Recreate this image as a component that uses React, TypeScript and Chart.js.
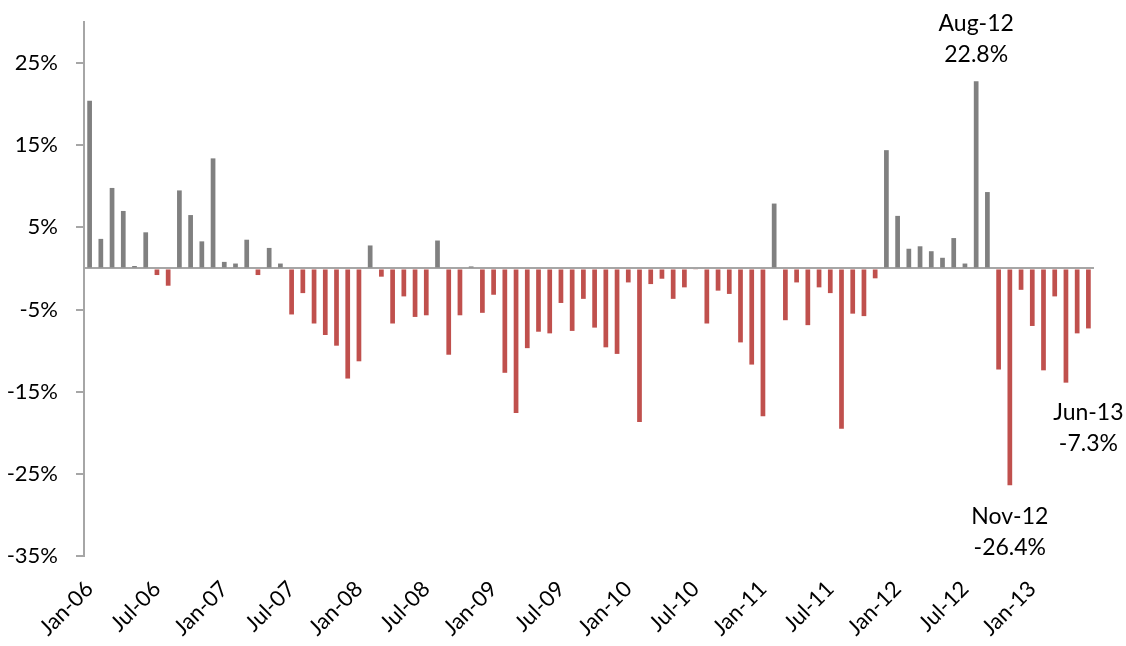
import React, { useEffect, useRef } from "react";
import { Chart, registerables } from "chart.js";

Chart.register(...registerables);

const monthNames = ["Jan", "Feb", "Mar", "Apr", "May", "Jun", "Jul", "Aug", "Sep", "Oct", "Nov", "Dec"];
const years = ["06", "07", "08", "09", "10", "11", "12", "13"];
const categories: string[] = years
  .flatMap((yy) => monthNames.map((m) => `${m}-${yy}`))
  .slice(0, 90); // Jan-06 .. Jun-13

const values: number[] = [
  20.4, 3.6, 9.8, 7.0, 0.3, 4.4, -0.8, -2.1, 9.5, 6.5, 3.3, 13.4,
  0.8, 0.6, 3.5, -0.8, 2.5, 0.6, -5.6, -3.0, -6.7, -8.1, -9.4, -13.4,
  -11.3, 2.8, -1.0, -6.7, -3.4, -5.9, -5.7, 3.4, -10.5, -5.7, 0.25, -5.4,
  -3.2, -12.7, -17.6, -9.7, -7.7, -7.9, -4.2, -7.6, -3.7, -7.2, -9.6, -10.4,
  -1.7, -18.7, -1.9, -1.25, -3.7, -2.3, -0.1, -6.7, -2.7, -3.1, -9.0, -11.7,
  -18.0, 7.9, -6.3, -1.7, -6.9, -2.3, -3.0, -19.5, -5.5, -5.8, -1.2, 14.4,
  6.4, 2.4, 2.7, 2.1, 1.3, 3.7, 0.6, 22.8, 9.3, -12.3, -26.4, -2.6,
  -7.0, -12.4, -3.4, -13.9, -7.9, -7.3,
];

const xTickLabels = [
  "Jan-06", "Jul-06", "Jan-07", "Jul-07", "Jan-08", "Jul-08", "Jan-09", "Jul-09",
  "Jan-10", "Jul-10", "Jan-11", "Jul-11", "Jan-12", "Jul-12", "Jan-13",
];

const yTickValues = [-35, -25, -15, -5, 5, 15, 25];

const calloutMonths = ["Aug-12", "Nov-12", "Jun-13"];
// vertical pixel offset of the first text line from the bar end
const calloutOffsets = [-58, 31, 84];

const FONT_FAMILY = "Lato, 'Open Sans', sans-serif";
const POS_COLOR = "#808080";
const NEG_COLOR = "#C0504D";
const AXIS_COLOR = "#A6A6A6";

const calloutPlugin = {
  id: "callouts",
  afterDatasetsDraw(chart: any) {
    const { ctx, scales } = chart;
    const xs = scales.x;
    const ys = scales.y;
    ctx.save();
    ctx.font = `23px ${FONT_FAMILY}`;
    ctx.fillStyle = "#000";
    ctx.textAlign = "center";
    ctx.textBaseline = "middle";
    calloutMonths.forEach((m, k) => {
      const i = categories.indexOf(m);
      const v = values[i];
      const px = xs.getPixelForValue(i);
      const py = ys.getPixelForValue(v);
      const start = py + calloutOffsets[k];
      ctx.fillText(m, px, start);
      ctx.fillText(`${v.toFixed(1)}%`, px, start + 31);
    });
    ctx.restore();
  },
};

export default function App() {
  const canvasRef = useRef<HTMLCanvasElement | null>(null);

  useEffect(() => {
    if (!canvasRef.current) return;
    const chart = new Chart(canvasRef.current, {
      type: "bar",
      data: {
        labels: categories,
        datasets: [
          {
            data: values,
            backgroundColor: values.map((v) => (v >= 0 ? POS_COLOR : NEG_COLOR)),
            borderWidth: 0,
            barPercentage: 0.42,
            categoryPercentage: 1,
          },
        ],
      },
      options: {
        animation: false,
        responsive: true,
        maintainAspectRatio: false,
        layout: { padding: { top: 22, right: 32, left: 0, bottom: 0 } },
        plugins: {
          legend: { display: false },
          tooltip: { enabled: false },
        },
        scales: {
          x: {
            grid: { display: false, drawTicks: false },
            border: { display: false },
            ticks: {
              autoSkip: false,
              maxRotation: 45,
              minRotation: 45,
              padding: 20,
              color: "#000",
              font: { family: FONT_FAMILY, size: 22 },
              callback: (_v: any, i: number) =>
                xTickLabels.includes(categories[i]) ? categories[i] : "",
            },
            afterFit: (s: any) => {
              s.height = 90;
              s.paddingLeft = 0;
              s.paddingRight = 0;
            },
          },
          y: {
            min: -35,
            max: 30,
            afterBuildTicks: (s: any) => {
              s.ticks = [...yTickValues, 0]
                .sort((a, b) => a - b)
                .map((v) => ({ value: v }));
            },
            ticks: {
              autoSkip: false,
              padding: 18,
              color: "#000",
              font: { family: FONT_FAMILY, size: 22 },
              callback: (v: any) => (v === 0 ? "" : `${v}%`),
            },
            grid: {
              drawTicks: true,
              tickLength: 8,
              lineWidth: 2,
              color: (ctx: any) =>
                ctx.tick && ctx.tick.value === 0 ? AXIS_COLOR : "rgba(0,0,0,0)",
              tickColor: (ctx: any) =>
                ctx.tick && ctx.tick.value === 0 ? "rgba(0,0,0,0)" : AXIS_COLOR,
            },
            border: { display: true, color: AXIS_COLOR, width: 2 },
            afterFit: (s: any) => {
              s.width = 84;
              s.paddingTop = 0;
              s.paddingBottom = 0;
            },
          },
        },
      },
      plugins: [calloutPlugin],
    });
    return () => chart.destroy();
  }, []);

  return (
    <div style={{ position: "absolute", left: 0, top: 0, width: 1126, height: 646 }}>
      <canvas ref={canvasRef} />
    </div>
  );
}
